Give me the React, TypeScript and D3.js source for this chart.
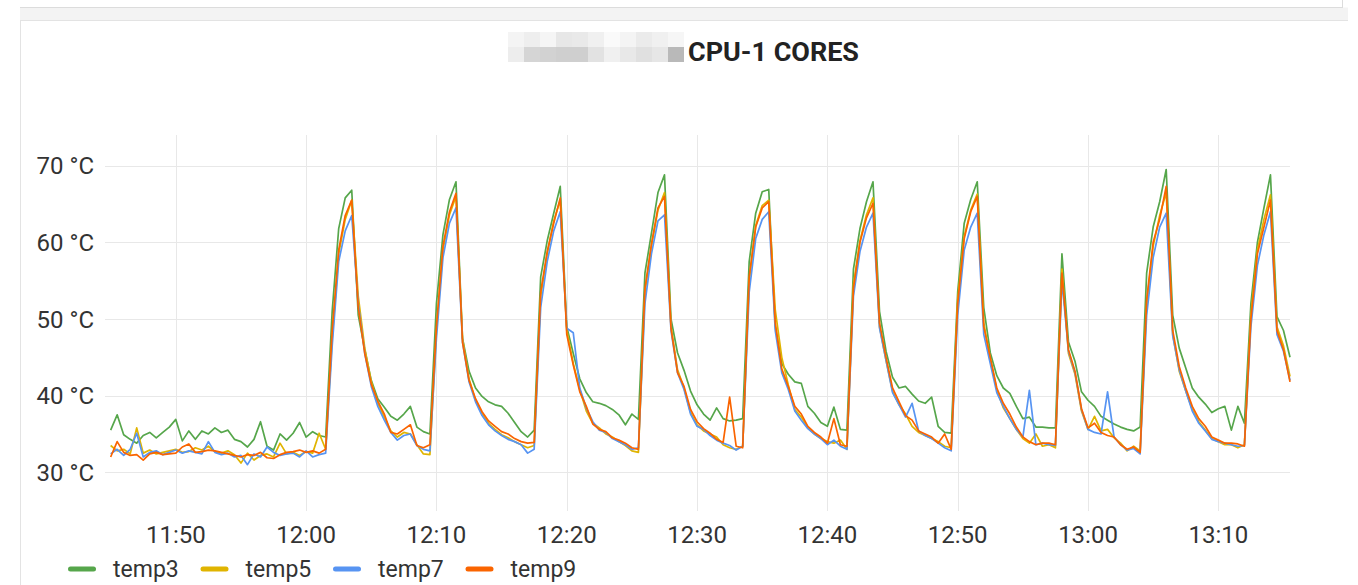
import React, { useEffect, useRef } from "react";
import * as d3 from "d3";

// samples every 30 s, first one at 11:45:00
const START = new Date(2021, 0, 1, 11, 45, 0);
const STEP_MS = 30 * 1000;

const SERIES_NAMES = ["temp3", "temp5", "temp7", "temp9"];
const SERIES_COLORS = ["#56A64B", "#E0B400", "#5794F2", "#FA6400"];

const TEMP3 = [
  35.5, 37.5, 34.9, 34.3, 33.8, 34.8, 35.2, 34.5, 35.2, 35.9,
  36.9, 34.1, 35.4, 34.3, 35.4, 35.0, 35.8, 35.2, 35.5, 34.3,
  34.0, 33.3, 34.3, 36.6, 33.4, 32.9, 35.0, 34.2, 35.1, 36.5,
  34.6, 35.3, 34.8, 34.6, 51.0, 61.8, 65.8, 66.8, 50.5, 46.0,
  42.0, 39.6, 38.5, 37.3, 36.8, 37.6, 38.6, 35.9, 35.3, 35.0,
  52.0, 61.0, 65.6, 67.9, 47.5, 43.2, 41.0, 39.9, 39.2, 38.8,
  38.6, 37.7, 36.5, 35.3, 34.6, 35.5, 55.5, 60.2, 63.8, 67.3,
  49.0, 45.5, 42.2, 40.4, 39.2, 39.0, 38.7, 38.2, 37.5, 36.2,
  37.6, 36.9, 56.0, 61.2, 66.5, 68.8, 50.0, 45.6, 43.3, 40.6,
  38.8, 37.6, 36.8, 38.4, 37.0, 36.7, 36.8, 37.0, 57.5, 63.8,
  66.6, 66.9, 49.0, 44.2, 42.8, 41.8, 41.6, 38.6, 37.7, 36.5,
  36.0, 38.5, 35.6, 35.5, 56.5, 61.8, 65.3, 67.9, 51.0, 45.8,
  42.4, 41.0, 41.2, 40.2, 39.3, 39.0, 39.8, 36.0, 35.2, 35.1,
  53.5, 62.5, 65.6, 67.9, 51.5, 45.6, 42.6, 41.0, 40.3, 38.6,
  37.0, 37.2, 35.9, 35.9, 35.8, 35.8, 58.5, 47.0, 44.5, 40.5,
  39.4, 38.6, 37.3, 36.8, 36.3, 35.9, 35.6, 35.4, 35.9, 56.0,
  62.0, 65.3, 69.5, 50.5, 46.2, 43.6, 41.0, 39.8, 38.9, 37.8,
  38.3, 38.6, 35.5, 38.6, 36.4, 52.0, 60.0, 64.5, 68.8, 50.3,
  48.5, 45.0,
];

const TEMP5 = [
  33.5, 32.8, 33.0, 32.4, 35.8, 32.5, 32.9, 32.4, 32.6, 32.8,
  33.0, 32.6, 32.7, 33.2, 32.9, 33.4, 32.7, 32.5, 32.8, 32.3,
  31.2, 32.5, 31.6, 32.2, 32.4, 32.0, 33.8, 32.4, 32.6, 32.2,
  32.7, 32.5, 35.1, 33.0, 47.5, 58.5, 63.0, 65.5, 53.0, 46.2,
  41.8, 39.0, 37.2, 35.4, 34.6, 35.2, 35.0, 33.6, 32.4, 32.3,
  48.5, 59.0, 63.6, 66.0, 47.5, 42.2, 39.4, 37.6, 36.4, 35.6,
  34.9, 34.5, 34.0, 33.6, 33.2, 33.5, 53.0, 58.5, 62.8, 65.5,
  48.5, 44.2, 40.8, 38.0, 36.4, 35.8, 35.0, 34.6, 34.0, 33.5,
  32.8, 32.6, 53.5, 59.5, 64.2, 66.5, 49.0, 43.4, 41.0, 37.8,
  36.2, 35.4, 35.0, 34.6, 33.6, 33.2, 33.0, 33.4, 55.0, 62.2,
  64.8, 65.5, 51.2, 45.0, 41.4, 38.2, 37.2, 35.8, 35.0, 34.4,
  34.0, 33.8, 34.2, 33.0, 54.5, 60.2, 63.6, 65.8, 49.0, 44.6,
  40.6, 38.8, 37.6, 36.0, 35.2, 34.8, 34.4, 34.0, 33.4, 33.2,
  52.5, 60.8, 64.2, 66.3, 49.5, 44.8, 40.8, 38.4, 37.0, 35.6,
  34.4, 33.8, 35.0, 33.4, 33.6, 33.2, 56.5, 45.5, 42.8, 38.0,
  35.6, 37.3, 35.4, 35.6, 34.5, 33.8, 32.8, 33.4, 32.8, 52.0,
  59.5, 63.5, 66.5, 48.0, 43.2, 40.6, 38.2, 36.6, 35.5, 34.4,
  34.0, 33.6, 33.6, 33.2, 33.6, 50.5, 59.0, 63.0, 66.2, 49.0,
  46.5, 42.5,
];

const TEMP7 = [
  32.4, 33.0, 32.2, 33.0, 35.1, 32.0, 32.6, 32.8, 32.3, 32.6,
  32.9, 32.5, 32.8, 32.6, 32.4, 34.0, 32.6, 32.3, 32.5, 32.0,
  32.2, 31.0, 32.4, 32.0, 33.3, 32.6, 32.2, 32.4, 32.5, 32.0,
  32.8, 32.0, 32.3, 32.5, 46.5, 57.5, 61.5, 63.5, 52.0, 45.5,
  41.2, 38.6, 36.8, 35.2, 34.2, 34.8, 35.0, 33.5, 33.0, 32.8,
  47.5, 58.0, 62.5, 64.5, 47.0, 41.8, 39.2, 37.4, 36.2, 35.4,
  34.8, 34.3, 34.0, 33.6, 32.5, 33.0, 51.5, 57.5, 61.5, 64.0,
  48.8, 48.2, 41.0, 38.4, 36.6, 35.5, 35.2, 34.4, 34.0, 33.6,
  33.0, 33.2, 52.0, 58.5, 62.8, 63.6, 48.5, 43.0, 40.8, 37.6,
  36.0, 35.6, 34.8, 34.2, 33.8, 33.5, 32.9, 33.4, 53.5, 60.5,
  63.0, 64.0, 48.5, 43.0, 40.8, 38.0, 36.8, 35.7, 35.0, 34.4,
  33.6, 34.2, 33.4, 33.0, 53.0, 58.8, 62.0, 63.8, 48.8, 44.6,
  40.4, 38.8, 37.2, 39.0, 35.4, 34.8, 34.4, 33.8, 33.2, 32.8,
  50.5, 59.0, 62.0, 63.8, 48.0, 44.2, 40.4, 38.6, 37.0, 35.6,
  34.6, 40.7, 33.6, 33.8, 33.6, 33.5, 55.0, 45.8, 43.0, 38.2,
  35.6, 35.2, 35.0, 40.5, 34.6, 33.6, 32.9, 33.1, 32.4, 50.5,
  58.0, 62.0, 63.8, 47.8, 43.4, 40.6, 38.0, 36.4, 35.4, 34.3,
  34.0, 33.8, 33.6, 33.4, 33.5, 49.0, 57.0, 61.0, 64.0, 48.0,
  45.8, 42.0,
];

const TEMP9 = [
  32.0, 34.0, 32.6, 32.2, 32.3, 31.6, 32.4, 32.6, 32.3, 32.4,
  32.5, 33.3, 33.7, 32.6, 32.7, 32.9, 32.8, 32.6, 32.4, 32.2,
  32.0, 32.3, 32.2, 32.6, 31.9, 31.8, 32.3, 32.6, 32.7, 32.9,
  32.6, 32.8, 32.5, 33.0, 48.5, 59.0, 63.5, 65.5, 51.5, 45.5,
  41.5, 39.3, 37.6, 35.2, 35.0, 35.6, 36.2, 33.5, 33.2, 33.6,
  49.0, 59.5, 64.0, 66.4, 47.0, 42.0, 39.6, 37.9, 36.7, 36.0,
  35.3, 35.0, 34.4, 34.0, 33.8, 33.9, 53.5, 58.8, 62.5, 65.8,
  48.0, 44.0, 40.5, 38.6, 36.3, 35.6, 35.3, 34.5, 34.2, 33.8,
  33.2, 33.0, 54.0, 59.8, 64.5, 66.0, 48.8, 43.0, 41.2, 38.2,
  36.6, 35.7, 35.1, 34.3, 33.9, 39.8, 33.4, 33.2, 55.5, 62.0,
  64.5, 65.3, 49.5, 43.5, 41.2, 38.6, 37.6, 36.0, 35.2, 34.6,
  33.8, 37.0, 33.6, 33.4, 54.0, 60.0, 63.2, 65.1, 49.5, 45.0,
  41.0, 39.2, 37.4, 36.8, 35.4, 35.0, 34.6, 33.8, 35.0, 33.0,
  52.0, 60.5, 64.0, 66.0, 49.0, 45.0, 41.0, 39.0, 37.6, 35.9,
  34.6, 34.0, 33.6, 33.8, 33.8, 33.6, 56.0, 46.0, 43.2, 38.3,
  35.8, 36.4, 35.2, 34.8, 34.6, 33.6, 33.0, 33.3, 32.6, 52.5,
  60.0, 63.0, 67.3, 48.5, 43.8, 41.0, 38.6, 37.0, 36.0, 34.6,
  34.2, 33.8, 33.8, 33.7, 33.4, 50.0, 58.5, 62.0, 65.5, 48.5,
  46.0, 41.8,
];

const SERIES = [TEMP3, TEMP5, TEMP7, TEMP9];

const Y_TICKS = [30, 40, 50, 60, 70];

// pixelated (blurred) part of the title, two rows of grey blocks
const BLUR_TOP = ["#f4f4f4", "#eeeeee", "#f5f5f5", "#e7e7e7", "#e9e9e9", "#f0f0f0", "#fafafa", "#f4f4f4", "#ebebeb", "#f0f0f0", "#f6f6f6"];
const BLUR_BOTTOM = ["#ededed", "#d5d5d5", "#d2d2d2", "#cfcfcf", "#cfcfcf", "#e2e2e2", "#f0f0f0", "#e8e8e8", "#e0e0e0", "#e6e6e6", "#b9b9b9"];

const W = 1358;
const H = 585;
const FONT = "Roboto, 'Noto Sans', sans-serif";

const App: React.FC = () => {
  const svgRef = useRef<SVGSVGElement | null>(null);

  useEffect(() => {
    if (!svgRef.current) return;
    const svg = d3.select(svgRef.current);
    svg.selectAll("*").remove();

    const timeAt = (i: number) => new Date(START.getTime() + i * STEP_MS);

    const x = d3.scaleTime()
      .domain([new Date(2021, 0, 1, 11, 44, 34), new Date(2021, 0, 1, 13, 15, 30)])
      .range([105, 1290]);
    const y = d3.scaleLinear().domain([30, 70]).range([472.3, 165.7]);

    // dashboard chrome: panel above, grey gap, this panel
    svg.append("rect").attr("x", 0).attr("y", 0).attr("width", W).attr("height", H).attr("fill", "#fff");
    svg.append("rect").attr("x", 20).attr("y", 7.5).attr("width", 1328).attr("height", 13).attr("fill", "#f3f3f3");
    svg.append("line").attr("x1", 20).attr("x2", 1343).attr("y1", 7.5).attr("y2", 7.5).attr("stroke", "#dcdcdc");
    svg.append("line").attr("x1", 1342.5).attr("x2", 1342.5).attr("y1", 0).attr("y2", 8).attr("stroke", "#dcdcdc");
    svg.append("line").attr("x1", 20).attr("x2", 1348).attr("y1", 20.5).attr("y2", 20.5).attr("stroke", "#e3e3e3");
    svg.append("line").attr("x1", 20.5).attr("x2", 20.5).attr("y1", 20).attr("y2", H).attr("stroke", "#e3e3e3");
    svg.append("rect").attr("x", 21).attr("y", 21).attr("width", 1327).attr("height", H - 21).attr("fill", "#fff");

    // title
    const blur = svg.append("g");
    BLUR_TOP.forEach((c, k) => {
      blur.append("rect").attr("x", 508 + k * 16).attr("y", 32).attr("width", 16).attr("height", 15).attr("fill", c);
    });
    BLUR_BOTTOM.forEach((c, k) => {
      blur.append("rect").attr("x", 508 + k * 16).attr("y", 47).attr("width", 16).attr("height", 15).attr("fill", c);
    });
    svg.append("text")
      .attr("x", 688).attr("y", 61)
      .attr("font-family", FONT).attr("font-size", 25).attr("font-weight", 700)
      .attr("fill", "#222")
      .attr("textLength", 171).attr("lengthAdjust", "spacingAndGlyphs")
      .text("CPU-1 CORES");

    // grid
    const xTicks = x.ticks(d3.timeMinute.every(10)!);
    const grid = svg.append("g").attr("stroke", "#e8e8e8").attr("stroke-width", 1);
    Y_TICKS.forEach((v) => {
      grid.append("line").attr("x1", 105).attr("x2", 1290)
        .attr("y1", Math.round(y(v)) + 0.5).attr("y2", Math.round(y(v)) + 0.5);
    });
    xTicks.forEach((t) => {
      grid.append("line").attr("y1", 135).attr("y2", 511)
        .attr("x1", Math.round(x(t)) + 0.5).attr("x2", Math.round(x(t)) + 0.5);
    });

    // axis labels
    svg.append("g").selectAll("text").data(Y_TICKS).join("text")
      .attr("x", 94).attr("y", (d) => y(d) + 8.5)
      .attr("text-anchor", "end")
      .attr("font-family", FONT).attr("font-size", 24).attr("fill", "#333")
      .text((d) => `${d} °C`);

    const fmt = d3.timeFormat("%H:%M");
    svg.append("g").selectAll("text").data(xTicks).join("text")
      .attr("x", (d) => x(d)).attr("y", 543)
      .attr("text-anchor", "middle")
      .attr("font-family", FONT).attr("font-size", 24).attr("fill", "#333")
      .text((d) => fmt(d));

    // series
    const line = d3.line<number>()
      .x((_, i) => x(timeAt(i)))
      .y((d) => y(d));
    SERIES.forEach((s, k) => {
      svg.append("path")
        .attr("d", line(s) ?? "")
        .attr("fill", "none")
        .attr("stroke", SERIES_COLORS[k])
        .attr("stroke-width", 1.7)
        .attr("stroke-linejoin", "round");
    });

    // legend
    const legend = svg.append("g");
    SERIES_NAMES.forEach((name, k) => {
      const lx = 68 + k * 132.5;
      legend.append("rect")
        .attr("x", lx).attr("y", 566.5).attr("width", 28).attr("height", 5).attr("rx", 2.5)
        .attr("fill", SERIES_COLORS[k]);
      legend.append("text")
        .attr("x", lx + 45).attr("y", 577)
        .attr("font-family", FONT).attr("font-size", 23).attr("fill", "#333")
        .text(name);
    });
  }, []);

  return (
    <svg
      ref={svgRef}
      width={W}
      height={H}
      style={{ position: "absolute", left: 0, top: 0, display: "block" }}
    />
  );
};

export default App;
